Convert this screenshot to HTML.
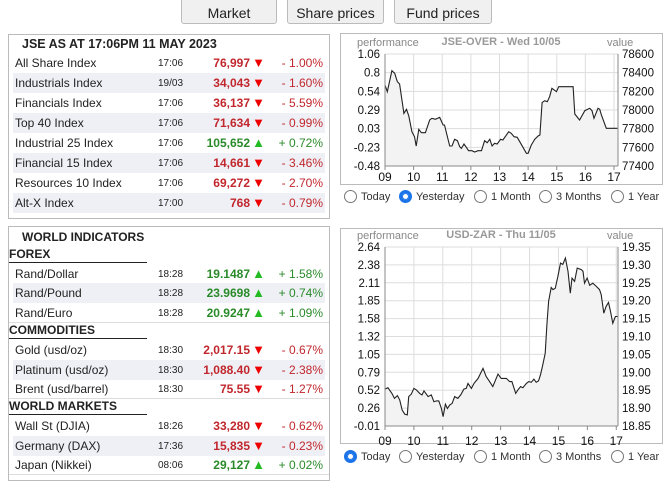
<!DOCTYPE html>
<html><head><meta charset="utf-8"><style>
body{margin:0;width:669px;height:487px;background:#fff;font-family:"Liberation Sans",Arial,sans-serif;position:relative;overflow:hidden;color:#222}
.btn{position:absolute;top:-3px;height:27px;background:#f0f0f0;border:1px solid #bbb;border-radius:3px;font-size:14px;text-align:center;line-height:30px;color:#222;box-sizing:border-box}
.box{position:absolute;border:1px solid #bbb;box-sizing:border-box}
.row{position:absolute;left:4px;width:312px;height:20px;font-size:12px}
.row.alt{background:#eef0f5}
.row span{position:absolute;top:3px}
.nm{left:2px}.tm{left:145px;font-size:10px;top:5px!important}
.val{right:75px;font-weight:bold}.pct{right:2px}
.dn .val,.dn .pct{color:#c1272d}.up .val,.up .pct{color:#2a8a2a}
.tri{right:60px;font-size:13px;top:2px!important}
.dn .tri{color:#e00}.up .tri{color:#2b2}
.hd{position:absolute;font-weight:bold;font-size:12px;left:4px}
.sec{position:absolute;left:0;width:138px;border-bottom:1.5px solid #222;font-size:12px;font-weight:bold;height:15px}
.sep{position:absolute;left:0;width:320px;border-top:1px solid #ddd}
.radio{position:absolute;font-size:11px;color:#333}
.radio i{display:inline-block;width:13px;height:13px;border:1px solid #777;border-radius:50%;vertical-align:-3px;margin-right:4px;box-sizing:border-box}
.radio i.on{border:3px solid #1a73e8;background:#fff;box-shadow:0 0 0 1px #1a73e8 inset}
</style></head><body>
<div class="btn" style="left:181px;width:96px">Market</div>
<div class="btn" style="left:287px;width:97px">Share prices</div>
<div class="btn" style="left:394px;width:98px">Fund prices</div>

<div class="box" style="left:8px;top:34px;width:322px;height:185px">
<div class="hd" style="top:2px;left:13px;font-size:12.5px">JSE AS AT 17:06PM 11 MAY 2023</div>
<div class="row dn" style="top:18px"><span class="nm">All Share Index</span><span class="tm">17:06</span><span class="val">76,997</span><span class="tri">▼</span><span class="pct">- 1.00%</span></div>
<div class="row dn alt" style="top:38px"><span class="nm">Industrials Index</span><span class="tm">19/03</span><span class="val">34,043</span><span class="tri">▼</span><span class="pct">- 1.60%</span></div>
<div class="row dn" style="top:58px"><span class="nm">Financials Index</span><span class="tm">17:06</span><span class="val">36,137</span><span class="tri">▼</span><span class="pct">- 5.59%</span></div>
<div class="row dn alt" style="top:78px"><span class="nm">Top 40 Index</span><span class="tm">17:06</span><span class="val">71,634</span><span class="tri">▼</span><span class="pct">- 0.99%</span></div>
<div class="row up" style="top:98px"><span class="nm">Industrial 25 Index</span><span class="tm">17:06</span><span class="val">105,652</span><span class="tri">▲</span><span class="pct">+ 0.72%</span></div>
<div class="row dn alt" style="top:118px"><span class="nm">Financial 15 Index</span><span class="tm">17:06</span><span class="val">14,661</span><span class="tri">▼</span><span class="pct">- 3.46%</span></div>
<div class="row dn" style="top:138px"><span class="nm">Resources 10 Index</span><span class="tm">17:06</span><span class="val">69,272</span><span class="tri">▼</span><span class="pct">- 2.70%</span></div>
<div class="row dn alt" style="top:158px"><span class="nm">Alt-X Index</span><span class="tm">17:00</span><span class="val">768</span><span class="tri">▼</span><span class="pct">- 0.79%</span></div>
</div>

<div class="box" style="left:8px;top:226px;width:322px;height:255px">
<div class="hd" style="top:3px;left:13px">WORLD INDICATORS</div>
<div class="sec" style="top:20px">FOREX</div>
<div class="row up" style="top:37px"><span class="nm">Rand/Dollar</span><span class="tm">18:28</span><span class="val">19.1487</span><span class="tri">▲</span><span class="pct">+ 1.58%</span></div>
<div class="row up alt" style="top:56px"><span class="nm">Rand/Pound</span><span class="tm">18:28</span><span class="val">23.9698</span><span class="tri">▲</span><span class="pct">+ 0.74%</span></div>
<div class="row up" style="top:76px"><span class="nm">Rand/Euro</span><span class="tm">18:28</span><span class="val">20.9247</span><span class="tri">▲</span><span class="pct">+ 1.09%</span></div>
<div class="sep" style="top:95px"></div>
<div class="sec" style="top:96px">COMMODITIES</div>
<div class="row dn" style="top:113px"><span class="nm">Gold (usd/oz)</span><span class="tm">18:30</span><span class="val">2,017.15</span><span class="tri">▼</span><span class="pct">- 0.67%</span></div>
<div class="row dn alt" style="top:133px"><span class="nm">Platinum (usd/oz)</span><span class="tm">18:30</span><span class="val">1,088.40</span><span class="tri">▼</span><span class="pct">- 2.38%</span></div>
<div class="row dn" style="top:152px"><span class="nm">Brent (usd/barrel)</span><span class="tm">18:30</span><span class="val">75.55</span><span class="tri">▼</span><span class="pct">- 1.27%</span></div>
<div class="sep" style="top:171px"></div>
<div class="sec" style="top:172px">WORLD MARKETS</div>
<div class="row dn" style="top:189px"><span class="nm">Wall St (DJIA)</span><span class="tm">18:26</span><span class="val">33,280</span><span class="tri">▼</span><span class="pct">- 0.62%</span></div>
<div class="row dn alt" style="top:209px"><span class="nm">Germany (DAX)</span><span class="tm">17:36</span><span class="val">15,835</span><span class="tri">▼</span><span class="pct">- 0.23%</span></div>
<div class="row up" style="top:228px"><span class="nm">Japan (Nikkei)</span><span class="tm">08:06</span><span class="val">29,127</span><span class="tri">▲</span><span class="pct">+ 0.02%</span></div>
<div class="sep" style="top:247px"></div>
</div>

<div class="box" style="left:340px;top:33px;width:323px;height:152px"></div>
<div class="box" style="left:340px;top:228px;width:323px;height:216px"></div>
<svg id="svg" width="669" height="487" style="position:absolute;left:0;top:0" font-family="Liberation Sans, Arial, sans-serif"></svg>

<div class="radio" style="left:344px;top:190px"><i></i>Today</div>
<div class="radio" style="left:399px;top:190px"><i class="on"></i>Yesterday</div>
<div class="radio" style="left:474px;top:190px"><i></i>1 Month</div>
<div class="radio" style="left:539px;top:190px"><i></i>3 Months</div>
<div class="radio" style="left:611px;top:190px"><i></i>1 Year</div>
<div class="radio" style="left:344px;top:450px"><i class="on"></i>Today</div>
<div class="radio" style="left:399px;top:450px"><i></i>Yesterday</div>
<div class="radio" style="left:474px;top:450px"><i></i>1 Month</div>
<div class="radio" style="left:539px;top:450px"><i></i>3 Months</div>
<div class="radio" style="left:611px;top:450px"><i></i>1 Year</div>

<script>
const hourTicks=["09","10","11","12","13","14","15","16","17"];
const jseTimes=[9.00,9.08,9.24,9.34,9.43,9.51,9.66,9.75,9.83,9.94,10.03,10.09,10.18,10.27,10.41,10.56,10.64,10.76,10.91,11.03,11.08,11.26,11.34,11.43,11.53,11.61,11.67,11.76,11.84,11.92,12.04,12.13,12.25,12.37,12.48,12.57,12.66,12.74,12.83,12.92,13.04,13.12,13.32,13.41,13.51,13.62,13.74,13.94,14.00,14.11,14.23,14.35,14.41,14.49,14.58,14.67,14.75,14.83,14.99,15.07,15.57,15.63,15.80,15.98,16.15,16.23,16.30,16.44,16.50,16.56,16.73,17.12];
const jseValues=[78268,78196,78421,78393,78304,78279,77964,78007,77936,77768,77714,77614,77793,77757,77757,77893,77911,77900,77921,77839,77839,77614,77614,77686,77671,77607,77589,77636,77600,77564,77564,77550,77564,77564,77671,77650,77686,77614,77643,77636,77686,77679,77768,77750,77714,77707,77643,77536,77536,77625,77686,77721,77732,78079,78100,78089,78143,78232,78196,78250,78250,77957,77893,77993,78018,77993,77911,78018,78007,77946,77804,77804];
const jsePerfTicks=["1.06","0.8","0.54","0.29","0.03","-0.23","-0.48"];
const jseValueTicks=["78600","78400","78200","78000","77800","77600","77400"];
const fxTimes=[9.00,9.10,9.24,9.33,9.43,9.51,9.59,9.68,9.77,9.82,9.91,10.00,10.08,10.20,10.28,10.35,10.49,10.60,10.69,10.78,10.86,10.95,11.01,11.09,11.16,11.24,11.32,11.41,11.52,11.62,11.73,11.81,11.87,11.99,12.08,12.22,12.39,12.50,12.62,12.73,12.91,13.02,13.20,13.31,13.39,13.52,13.60,13.69,13.77,13.89,13.97,14.06,14.15,14.23,14.31,14.38,14.46,14.54,14.60,14.66,14.75,14.81,14.89,14.98,15.07,15.15,15.24,15.33,15.41,15.47,15.56,15.65,15.79,15.85,15.90,15.99,16.08,16.19,16.31,16.42,16.48,16.57,16.65,16.73,16.80,16.88,16.97,17.06];
const fxValues=[18.953,18.957,18.941,18.927,18.935,18.923,18.895,18.883,18.881,18.932,18.939,18.955,18.951,18.941,18.937,18.948,18.932,18.937,18.918,18.920,18.920,18.899,18.876,18.911,18.899,18.909,18.913,18.932,18.927,18.937,18.953,18.955,18.969,18.955,18.969,18.983,19.011,18.988,18.974,18.960,18.995,18.983,18.983,18.974,18.974,18.941,18.951,18.960,18.957,18.969,18.974,18.972,18.981,18.972,18.976,18.993,19.021,19.053,19.133,19.198,19.237,19.231,19.235,19.268,19.305,19.301,19.319,19.282,19.221,19.263,19.254,19.291,19.287,19.282,19.249,19.263,19.243,19.249,19.240,19.231,19.217,19.165,19.184,19.195,19.170,19.137,19.156,19.156];
const fxPerfTicks=["2.64","2.38","2.11","1.85","1.58","1.32","1.05","0.79","0.52","0.26","-0.01"];
const fxValueTicks=["19.35","19.30","19.25","19.20","19.15","19.10","19.05","19.00","18.95","18.90","18.85"];

const svg=document.getElementById('svg');const NS='http://www.w3.org/2000/svg';
function mk(tag,attrs,parent){const e=document.createElementNS(NS,tag);for(const k in attrs)e.setAttribute(k,attrs[k]);(parent||svg).appendChild(e);return e;}
function txt(x,y,s,anchor,size,fill,parent){const t=mk('text',{x:x,y:y,'text-anchor':anchor,'font-size':size,fill:fill},parent);t.textContent=s;return t;}
function chart(name,title,top,bottom,xmax,times,values,perfTicks,valTicks,xlabOff){
  const g=mk('g',{});
  
  
  const L=385,R=618;
  const vmin=+valTicks[valTicks.length-1],vmax=+valTicks[0];
  const xs=h=>L+(h-9)/(xmax-9)*(R-L);
  const ys=v=>bottom-(v-vmin)/(vmax-vmin)*(bottom-top);
  const n=valTicks.length;
  for(let i=0;i<n;i++){const y=top+i*(bottom-top)/(n-1);
    mk('line',{x1:L,x2:R,y1:y,y2:y,stroke:'#ddd'},g);
    const a=txt(380,y+4,perfTicks[i],'end',11.5,'#111',g);
    
    
    const b=txt(622,y+4,valTicks[i],'start',11.5,'#111',g);
    
    }
  hourTicks.forEach(h=>{const x=xs(+h);mk('line',{x1:x,x2:x,y1:top,y2:bottom,stroke:'#ddd'},g);
    mk('line',{x1:x,x2:x,y1:bottom,y2:bottom+4,stroke:'#888'},g);
    const t=txt(x,bottom+xlabOff,h,'middle',12,'#111',g);
    
    });
  let d='';times.forEach((t,i)=>{d+=(i?'L':'M')+xs(t).toFixed(1)+','+ys(values[i]).toFixed(1);});
  const area=mk('path',{d:d+'L'+xs(times[times.length-1]).toFixed(1)+','+bottom+'L'+xs(times[0]).toFixed(1)+','+bottom+'Z',fill:'#f3f3f3'},g);
  
  
  const line=mk('path',{d:d,fill:'none',stroke:'#222','stroke-width':1.1},g);
  
  
  mk('line',{x1:L,x2:L,y1:top,y2:bottom,stroke:'#888'},g);
  mk('line',{x1:R,x2:R,y1:top,y2:bottom,stroke:'#888'},g);
  mk('line',{x1:L,x2:R,y1:bottom,y2:bottom,stroke:'#888'},g);
  const tt=txt(501,top-9,title,'middle',11,'#999',g);tt.setAttribute('font-weight','bold');
  
  
  const p=txt(357,top-8,'performance','start',11,'#888',g);
  
  
  const v=txt(607,top-8,'value','start',11,'#888',g);
  
  
}
chart('jse-chart','JSE-OVER - Wed 10/05',54,166,17.14,jseTimes,jseValues,jsePerfTicks,jseValueTicks,15);
chart('usdzar-chart','USD-ZAR - Thu 11/05',247,426,17.06,fxTimes,fxValues,fxPerfTicks,fxValueTicks,19);
</script>
</body></html>
